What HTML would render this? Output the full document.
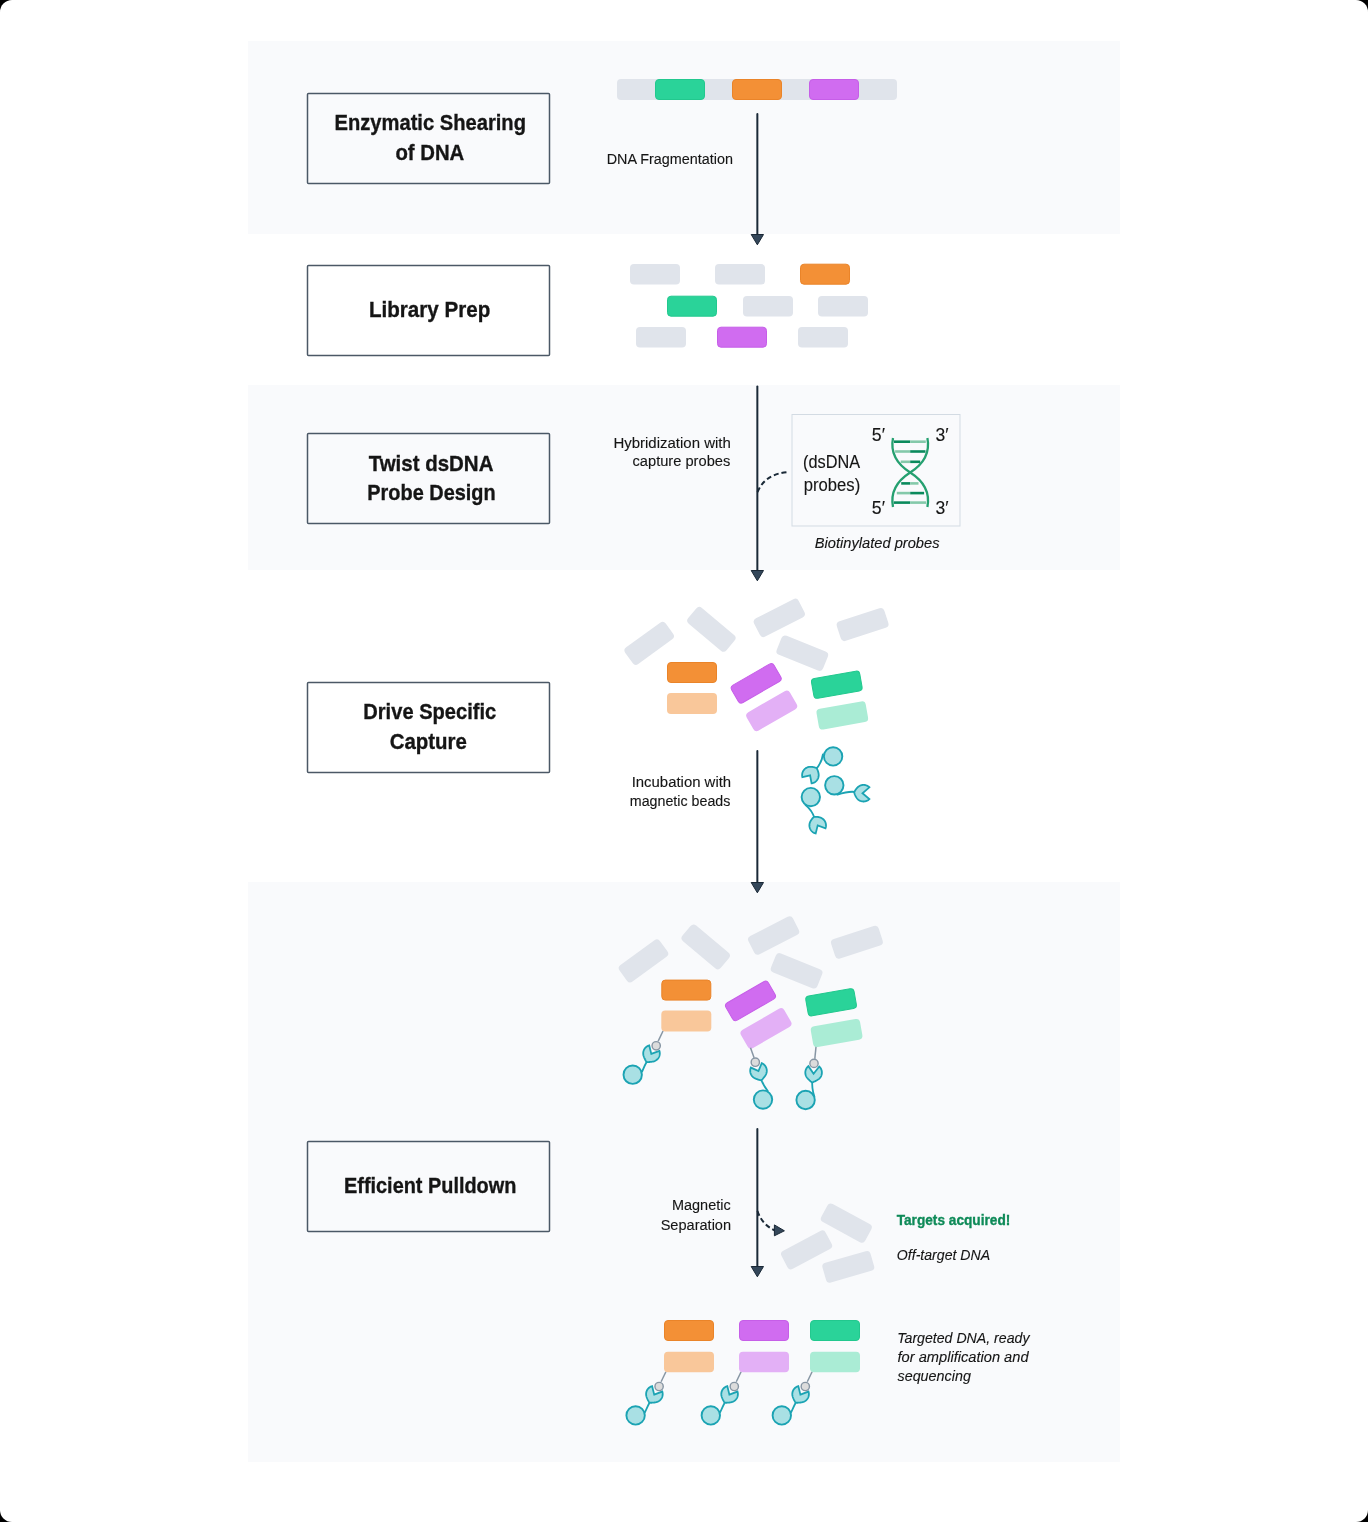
<!DOCTYPE html><html><head><meta charset="utf-8"><style>html,body{margin:0;padding:0;background:#000;width:1368px;height:1522px;overflow:hidden}svg{display:block;will-change:transform}text{font-family:"Liberation Sans", sans-serif}</style></head><body>
<svg width="1368" height="1522" viewBox="0 0 1368 1522">
<rect x="0" y="0" width="1368" height="1522" rx="12" fill="#ffffff"/>
<rect x="248" y="41" width="872" height="193" fill="#f9fafc"/>
<rect x="248" y="385" width="872" height="185" fill="#f9fafc"/>
<rect x="248" y="882" width="872" height="580" fill="#f9fafc"/>
<rect x="307.5" y="93.5" width="242" height="90" rx="1" fill="none" stroke="#4b5866" stroke-width="1.5"/>
<rect x="307.5" y="265.5" width="242" height="90" rx="1" fill="none" stroke="#4b5866" stroke-width="1.5"/>
<rect x="307.5" y="433.5" width="242" height="90" rx="1" fill="none" stroke="#4b5866" stroke-width="1.5"/>
<rect x="307.5" y="682.5" width="242" height="90" rx="1" fill="none" stroke="#4b5866" stroke-width="1.5"/>
<rect x="307.5" y="1141.5" width="242" height="90" rx="1" fill="none" stroke="#4b5866" stroke-width="1.5"/>
<rect x="792" y="414.5" width="168" height="111.5" fill="#f9fafc" stroke="#d3dbe3" stroke-width="1"/>
<line x1="894" y1="441.7" x2="910.2" y2="441.7" stroke="#0a8a5c" stroke-width="2.6"/>
<line x1="910.2" y1="441.7" x2="925.8" y2="441.7" stroke="#84c9aa" stroke-width="2.6"/>
<line x1="895.1" y1="451.5" x2="910.2" y2="451.5" stroke="#84c9aa" stroke-width="2.6"/>
<line x1="910.2" y1="451.5" x2="925.5" y2="451.5" stroke="#0a8a5c" stroke-width="2.6"/>
<line x1="900.7" y1="461.8" x2="910.2" y2="461.8" stroke="#84c9aa" stroke-width="2.6"/>
<line x1="910.2" y1="461.8" x2="920.2" y2="461.8" stroke="#0a8a5c" stroke-width="2.6"/>
<line x1="901.2" y1="483.4" x2="910.2" y2="483.4" stroke="#0a8a5c" stroke-width="2.6"/>
<line x1="910.2" y1="483.4" x2="918.5" y2="483.4" stroke="#84c9aa" stroke-width="2.6"/>
<line x1="896.8" y1="493.1" x2="910.2" y2="493.1" stroke="#84c9aa" stroke-width="2.6"/>
<line x1="910.2" y1="493.1" x2="924.1" y2="493.1" stroke="#0a8a5c" stroke-width="2.6"/>
<line x1="893.7" y1="502.6" x2="910.2" y2="502.6" stroke="#0a8a5c" stroke-width="2.6"/>
<line x1="910.2" y1="502.6" x2="926.1" y2="502.6" stroke="#84c9aa" stroke-width="2.6"/>
<path d="M893.00,438.00 C889.50,456.00 900.00,466.00 910.20,472.50 C920.40,479.00 930.90,489.00 927.40,507.00" fill="none" stroke="#25a070" stroke-width="2.3"/>
<path d="M927.40,438.00 C930.90,456.00 920.40,466.00 910.20,472.50 C900.00,479.00 889.50,489.00 893.00,507.00" fill="none" stroke="#25a070" stroke-width="2.3"/>
<line x1="757.35" y1="114" x2="757.35" y2="235" stroke="#1a2937" stroke-width="2" stroke-linecap="round"/>
<path d="M751.2,234.5 L763.5,234.5 L757.35,244.8 Z" fill="#34475a" stroke="#1a2836" stroke-width="1" stroke-linejoin="miter"/>
<line x1="757.35" y1="386.5" x2="757.35" y2="571" stroke="#1a2937" stroke-width="2" stroke-linecap="round"/>
<path d="M751.2,570.5 L763.5,570.5 L757.35,580.8 Z" fill="#34475a" stroke="#1a2836" stroke-width="1" stroke-linejoin="miter"/>
<line x1="757.35" y1="751" x2="757.35" y2="883" stroke="#1a2937" stroke-width="2" stroke-linecap="round"/>
<path d="M751.2,882.5 L763.5,882.5 L757.35,892.8 Z" fill="#34475a" stroke="#1a2836" stroke-width="1" stroke-linejoin="miter"/>
<line x1="757.35" y1="1129" x2="757.35" y2="1267" stroke="#1a2937" stroke-width="2" stroke-linecap="round"/>
<path d="M751.2,1266.5 L763.5,1266.5 L757.35,1276.8 Z" fill="#34475a" stroke="#1a2836" stroke-width="1" stroke-linejoin="miter"/>
<path d="M757.5,492 Q765,474 788,472" fill="none" stroke="#1a2937" stroke-width="2" stroke-dasharray="5,3"/>
<path d="M757.5,1211 Q762,1225 776,1231" fill="none" stroke="#1a2937" stroke-width="2" stroke-dasharray="5,3"/>
<path d="M774.4,1224.9 L784.4,1230.8 L774.4,1235.8 Z" fill="#34475a" stroke="#1a2836" stroke-width="1"/>
<rect x="-140.0" y="-10.5" width="280" height="21" rx="4" fill="#e0e4eb" transform="translate(757.00,89.50) rotate(0)"/>
<rect x="-24.5" y="-10.0" width="49" height="20" rx="3.5" fill="#2ad399" stroke="#22c88e" stroke-width="1" transform="translate(680.00,89.50) rotate(0)"/>
<rect x="-24.5" y="-10.0" width="49" height="20" rx="3.5" fill="#f39036" stroke="#ea8429" stroke-width="1" transform="translate(757.00,89.50) rotate(0)"/>
<rect x="-24.5" y="-10.0" width="49" height="20" rx="3.5" fill="#d06cf0" stroke="#c65ee8" stroke-width="1" transform="translate(834.00,89.50) rotate(0)"/>
<rect x="-25.0" y="-10.149999999999977" width="50" height="20.299999999999955" rx="4" fill="#e0e4eb" transform="translate(655.00,274.25) rotate(0)"/>
<rect x="-25.0" y="-10.149999999999977" width="50" height="20.299999999999955" rx="4" fill="#e0e4eb" transform="translate(740.00,274.25) rotate(0)"/>
<rect x="-24.5" y="-10.0" width="49" height="20.0" rx="3.5" fill="#f39036" stroke="#ea8429" stroke-width="1" transform="translate(825.00,274.20) rotate(0)"/>
<rect x="-24.5" y="-10.0" width="49" height="20.0" rx="3.5" fill="#2ad399" stroke="#22c88e" stroke-width="1" transform="translate(692.00,306.20) rotate(0)"/>
<rect x="-25.0" y="-10.149999999999977" width="50" height="20.299999999999955" rx="4" fill="#e0e4eb" transform="translate(768.00,306.25) rotate(0)"/>
<rect x="-25.0" y="-10.149999999999977" width="50" height="20.299999999999955" rx="4" fill="#e0e4eb" transform="translate(843.00,306.25) rotate(0)"/>
<rect x="-25.0" y="-10.149999999999977" width="50" height="20.299999999999955" rx="4" fill="#e0e4eb" transform="translate(661.00,337.25) rotate(0)"/>
<rect x="-24.5" y="-10.0" width="49" height="20.0" rx="3.5" fill="#d06cf0" stroke="#c65ee8" stroke-width="1" transform="translate(742.00,337.20) rotate(0)"/>
<rect x="-25.0" y="-10.149999999999977" width="50" height="20.299999999999955" rx="4" fill="#e0e4eb" transform="translate(823.00,337.25) rotate(0)"/>
<g><rect x="-25.0" y="-10.25" width="50" height="20.5" rx="4" fill="#e0e4eb" transform="translate(649.20,643.30) rotate(-36)"/><rect x="-25.0" y="-10.25" width="50" height="20.5" rx="4" fill="#e0e4eb" transform="translate(711.40,629.30) rotate(40)"/><rect x="-25.0" y="-10.25" width="50" height="20.5" rx="4" fill="#e0e4eb" transform="translate(779.30,617.90) rotate(-27)"/><rect x="-25.0" y="-10.25" width="50" height="20.5" rx="4" fill="#e0e4eb" transform="translate(862.60,624.60) rotate(-18)"/><rect x="-25.0" y="-10.25" width="50" height="20.5" rx="4" fill="#e0e4eb" transform="translate(802.30,653.20) rotate(22)"/><rect x="-24.5" y="-10.0" width="49" height="20" rx="3.5" fill="#f39036" stroke="#ea8429" stroke-width="1" transform="translate(692.00,672.50) rotate(0)"/><rect x="-25.0" y="-10.5" width="50" height="21" rx="4" fill="#f9c79a" transform="translate(692.00,703.50) rotate(0)"/><rect x="-24.5" y="-10.0" width="49" height="20" rx="3.5" fill="#d06cf0" stroke="#c65ee8" stroke-width="1" transform="translate(756.20,683.30) rotate(-30)"/><rect x="-25.0" y="-10.5" width="50" height="21" rx="4" fill="#e3b0f6" transform="translate(771.70,710.80) rotate(-30)"/><rect x="-24.5" y="-10.0" width="49" height="20" rx="3.5" fill="#2ad399" stroke="#22c88e" stroke-width="1" transform="translate(836.80,684.70) rotate(-10)"/><rect x="-25.0" y="-10.5" width="50" height="21" rx="4" fill="#aaecd5" transform="translate(842.30,715.40) rotate(-10)"/></g>
<g transform="translate(-5.7,317.6)"><rect x="-25.0" y="-10.25" width="50" height="20.5" rx="4" fill="#e0e4eb" transform="translate(649.20,643.30) rotate(-36)"/><rect x="-25.0" y="-10.25" width="50" height="20.5" rx="4" fill="#e0e4eb" transform="translate(711.40,629.30) rotate(40)"/><rect x="-25.0" y="-10.25" width="50" height="20.5" rx="4" fill="#e0e4eb" transform="translate(779.30,617.90) rotate(-27)"/><rect x="-25.0" y="-10.25" width="50" height="20.5" rx="4" fill="#e0e4eb" transform="translate(862.60,624.60) rotate(-18)"/><rect x="-25.0" y="-10.25" width="50" height="20.5" rx="4" fill="#e0e4eb" transform="translate(802.30,653.20) rotate(22)"/><rect x="-24.5" y="-10.0" width="49" height="20" rx="3.5" fill="#f39036" stroke="#ea8429" stroke-width="1" transform="translate(692.00,672.50) rotate(0)"/><rect x="-25.0" y="-10.5" width="50" height="21" rx="4" fill="#f9c79a" transform="translate(692.00,703.50) rotate(0)"/><rect x="-24.5" y="-10.0" width="49" height="20" rx="3.5" fill="#d06cf0" stroke="#c65ee8" stroke-width="1" transform="translate(756.20,683.30) rotate(-30)"/><rect x="-25.0" y="-10.5" width="50" height="21" rx="4" fill="#e3b0f6" transform="translate(771.70,710.80) rotate(-30)"/><rect x="-24.5" y="-10.0" width="49" height="20" rx="3.5" fill="#2ad399" stroke="#22c88e" stroke-width="1" transform="translate(836.80,684.70) rotate(-10)"/><rect x="-25.0" y="-10.5" width="50" height="21" rx="4" fill="#aaecd5" transform="translate(842.30,715.40) rotate(-10)"/></g>
<path d="M822.9,754.5 Q821.5,764 815,770" fill="none" stroke="#1ba3b3" stroke-width="1.8" stroke-linecap="round"/>
<circle cx="833.1" cy="756.4" r="9.2" fill="#a9e0e4" stroke="#1ba3b3" stroke-width="1.9"/>
<path d="M810.10,775.40 L802.35,777.11 L802.25,776.69 L802.18,776.26 L802.13,775.84 L802.11,775.41 L802.10,774.98 L802.12,774.55 L802.16,774.12 L802.22,773.70 L802.30,773.27 L802.41,772.86 L802.54,772.45 L802.68,772.04 L802.85,771.65 L803.04,771.26 L803.25,770.89 L803.48,770.52 L803.72,770.17 L803.99,769.83 L804.27,769.50 L804.57,769.19 L804.88,768.90 L805.21,768.62 L805.55,768.36 L805.91,768.12 L806.27,767.90 L806.65,767.69 L807.04,767.51 L807.44,767.35 L807.84,767.20 L808.26,767.08 L808.67,766.98 L809.10,766.90 L809.52,766.85 L809.95,766.81 L810.38,766.80 L810.81,766.81 L811.24,766.83 L811.67,766.87 L812.10,766.92 L812.53,766.97 L812.97,767.05 L813.40,767.13 L813.84,767.23 L814.28,767.34 L814.73,767.47 L815.17,767.61 L815.62,767.77 L816.08,767.95 L816.53,768.15 L816.82,768.54 L817.06,768.97 L817.27,769.40 L817.47,769.83 L817.65,770.26 L817.81,770.69 L817.96,771.11 L818.09,771.54 L818.21,771.96 L818.32,772.39 L818.42,772.81 L818.50,773.23 L818.58,773.66 L818.64,774.08 L818.68,774.51 L818.70,774.94 L818.70,775.37 L818.67,775.80 L818.62,776.23 L818.55,776.65 L818.46,777.07 L818.35,777.49 L818.22,777.89 L818.06,778.30 L817.88,778.69 L817.69,779.07 L817.47,779.44 L817.24,779.80 L816.99,780.15 L816.72,780.49 L816.43,780.80 L816.13,781.11 L815.81,781.40 L815.47,781.67 L815.13,781.92 L814.77,782.16 L814.40,782.38 L814.01,782.57 L813.62,782.75 L813.22,782.91 L812.81,783.04 L812.40,783.16 L811.98,783.25 L811.56,783.32 Z" fill="#a9e0e4" stroke="#1ba3b3" stroke-width="1.8" stroke-linejoin="miter"/>
<path d="M837.5,794.6 Q850,790.5 857,792.3" fill="none" stroke="#1ba3b3" stroke-width="1.8" stroke-linecap="round"/>
<circle cx="834.3" cy="785.3" r="9.2" fill="#a9e0e4" stroke="#1ba3b3" stroke-width="1.9"/>
<path d="M862.50,793.20 L869.37,799.07 L869.06,799.36 L868.73,799.64 L868.39,799.91 L868.04,800.15 L867.67,800.38 L867.29,800.58 L866.91,800.77 L866.51,800.93 L866.11,801.08 L865.69,801.20 L865.28,801.31 L864.85,801.39 L864.43,801.45 L864.00,801.48 L863.57,801.50 L863.14,801.49 L862.71,801.46 L862.29,801.41 L861.86,801.34 L861.44,801.24 L861.03,801.12 L860.62,800.99 L860.22,800.83 L859.83,800.65 L859.45,800.45 L859.08,800.23 L858.73,799.99 L858.38,799.73 L858.05,799.46 L857.73,799.17 L857.43,798.86 L857.15,798.54 L856.88,798.21 L856.63,797.86 L856.39,797.50 L856.16,797.13 L855.94,796.76 L855.72,796.38 L855.52,795.99 L855.33,795.59 L855.14,795.18 L854.96,794.76 L854.80,794.33 L854.64,793.89 L854.50,793.43 L854.37,792.96 L854.26,792.48 L854.39,792.01 L854.60,791.57 L854.82,791.14 L855.04,790.72 L855.28,790.32 L855.52,789.93 L855.77,789.56 L856.03,789.20 L856.29,788.84 L856.57,788.50 L856.85,788.17 L857.14,787.85 L857.43,787.54 L857.73,787.23 L858.05,786.94 L858.38,786.67 L858.73,786.41 L859.08,786.17 L859.45,785.95 L859.83,785.75 L860.22,785.57 L860.62,785.41 L861.03,785.28 L861.44,785.16 L861.86,785.06 L862.29,784.99 L862.71,784.94 L863.14,784.91 L863.57,784.90 L864.00,784.92 L864.43,784.95 L864.85,785.01 L865.28,785.09 L865.69,785.20 L866.11,785.32 L866.51,785.47 L866.91,785.63 L867.29,785.82 L867.67,786.02 L868.04,786.25 L868.39,786.49 L868.73,786.76 L869.06,787.04 L869.37,787.33 Z" fill="#a9e0e4" stroke="#1ba3b3" stroke-width="1.8" stroke-linejoin="miter"/>
<path d="M805.5,805 Q812,810 814.8,818.8" fill="none" stroke="#1ba3b3" stroke-width="1.8" stroke-linecap="round"/>
<circle cx="810.8" cy="797.1" r="9.2" fill="#a9e0e4" stroke="#1ba3b3" stroke-width="1.9"/>
<path d="M817.70,825.40 L815.69,833.45 L815.28,833.34 L814.87,833.20 L814.47,833.05 L814.08,832.87 L813.70,832.67 L813.33,832.45 L812.97,832.22 L812.62,831.96 L812.29,831.69 L811.97,831.40 L811.66,831.10 L811.38,830.78 L811.11,830.44 L810.86,830.10 L810.62,829.73 L810.41,829.36 L810.21,828.98 L810.04,828.59 L809.88,828.19 L809.75,827.78 L809.64,827.36 L809.54,826.94 L809.48,826.52 L809.43,826.09 L809.40,825.66 L809.40,825.23 L809.42,824.80 L809.46,824.37 L809.53,823.95 L809.61,823.53 L809.72,823.11 L809.85,822.70 L810.00,822.30 L810.17,821.90 L810.36,821.52 L810.56,821.14 L810.77,820.76 L810.99,820.39 L811.23,820.02 L811.47,819.65 L811.73,819.29 L812.00,818.93 L812.29,818.57 L812.59,818.22 L812.91,817.87 L813.25,817.53 L813.60,817.19 L813.99,816.90 L814.49,816.85 L814.97,816.82 L815.45,816.80 L815.92,816.80 L816.39,816.82 L816.84,816.85 L817.29,816.89 L817.73,816.94 L818.16,817.01 L818.59,817.09 L819.02,817.17 L819.44,817.27 L819.85,817.38 L820.26,817.51 L820.67,817.65 L821.07,817.81 L821.46,818.00 L821.83,818.20 L822.20,818.43 L822.56,818.67 L822.90,818.93 L823.23,819.21 L823.54,819.50 L823.84,819.81 L824.12,820.14 L824.38,820.48 L824.63,820.83 L824.86,821.19 L825.06,821.57 L825.25,821.96 L825.42,822.35 L825.57,822.76 L825.69,823.17 L825.80,823.58 L825.88,824.00 L825.94,824.43 L825.98,824.86 L826.00,825.29 L825.99,825.72 L825.97,826.15 L825.92,826.57 L825.84,827.00 L825.75,827.42 L825.64,827.83 L825.50,828.24 Z" fill="#a9e0e4" stroke="#1ba3b3" stroke-width="1.8" stroke-linejoin="miter"/>
<line x1="663" y1="1031.0" x2="658.2" y2="1041.1" stroke="#8796a4" stroke-width="1.5"/><path d="M647.9,1059.5 Q645,1064.7 642.2,1071.3" fill="none" stroke="#1ba3b3" stroke-width="1.8" stroke-linecap="round"/><path d="M651.30,1053.90 L659.39,1050.84 L659.52,1051.25 L659.62,1051.67 L659.70,1052.10 L659.75,1052.53 L659.79,1052.96 L659.80,1053.39 L659.79,1053.82 L659.76,1054.25 L659.70,1054.68 L659.62,1055.11 L659.52,1055.53 L659.40,1055.95 L659.26,1056.36 L659.09,1056.76 L658.91,1057.15 L658.70,1057.53 L658.48,1057.90 L658.23,1058.26 L657.97,1058.60 L657.69,1058.93 L657.39,1059.25 L657.08,1059.54 L656.75,1059.83 L656.41,1060.09 L656.05,1060.34 L655.69,1060.57 L655.31,1060.78 L654.92,1060.96 L654.52,1061.13 L654.11,1061.28 L653.70,1061.40 L653.28,1061.51 L652.85,1061.59 L652.42,1061.66 L651.99,1061.73 L651.56,1061.79 L651.12,1061.85 L650.67,1061.90 L650.21,1061.95 L649.74,1061.99 L649.26,1062.02 L648.77,1062.04 L648.26,1062.05 L647.74,1062.04 L647.20,1062.02 L646.65,1061.98 L646.29,1061.59 L645.99,1061.13 L645.72,1060.68 L645.47,1060.23 L645.23,1059.79 L645.01,1059.36 L644.81,1058.93 L644.61,1058.51 L644.43,1058.10 L644.26,1057.68 L644.09,1057.28 L643.94,1056.87 L643.78,1056.46 L643.64,1056.06 L643.51,1055.64 L643.40,1055.22 L643.32,1054.80 L643.26,1054.37 L643.22,1053.94 L643.20,1053.51 L643.21,1053.07 L643.23,1052.64 L643.29,1052.21 L643.36,1051.78 L643.45,1051.36 L643.57,1050.94 L643.71,1050.53 L643.87,1050.13 L644.05,1049.74 L644.25,1049.36 L644.47,1048.98 L644.71,1048.62 L644.97,1048.27 L645.25,1047.94 L645.54,1047.62 L645.85,1047.32 L646.17,1047.03 L646.51,1046.76 L646.87,1046.51 L647.23,1046.28 L647.61,1046.07 L648.00,1045.88 L648.39,1045.70 L648.80,1045.55 L649.21,1045.42 Z" fill="#a9e0e4" stroke="#1ba3b3" stroke-width="1.8" stroke-linejoin="miter"/><circle cx="656.2" cy="1045.8" r="4.15" fill="#dcdcdc" stroke="#8796a4" stroke-width="1.4"/><circle cx="632.7" cy="1074.7" r="9.2" fill="#a9e0e4" stroke="#1ba3b3" stroke-width="1.9"/>
<line x1="665.9" y1="1371.7" x2="661.1" y2="1381.8" stroke="#8796a4" stroke-width="1.5"/><path d="M650.8,1400.2 Q647.9,1405.4 645.1,1412.0" fill="none" stroke="#1ba3b3" stroke-width="1.8" stroke-linecap="round"/><path d="M654.20,1394.60 L662.29,1391.54 L662.42,1391.95 L662.52,1392.37 L662.60,1392.80 L662.65,1393.23 L662.69,1393.66 L662.70,1394.09 L662.69,1394.52 L662.66,1394.95 L662.60,1395.38 L662.52,1395.81 L662.42,1396.23 L662.30,1396.65 L662.16,1397.06 L661.99,1397.46 L661.81,1397.85 L661.60,1398.23 L661.38,1398.60 L661.13,1398.96 L660.87,1399.30 L660.59,1399.63 L660.29,1399.95 L659.98,1400.24 L659.65,1400.53 L659.31,1400.79 L658.95,1401.04 L658.59,1401.27 L658.21,1401.48 L657.82,1401.66 L657.42,1401.83 L657.01,1401.98 L656.60,1402.10 L656.18,1402.21 L655.75,1402.29 L655.32,1402.36 L654.89,1402.43 L654.46,1402.49 L654.02,1402.55 L653.57,1402.60 L653.11,1402.65 L652.64,1402.69 L652.16,1402.72 L651.67,1402.74 L651.16,1402.75 L650.64,1402.74 L650.10,1402.72 L649.55,1402.68 L649.19,1402.29 L648.89,1401.83 L648.62,1401.38 L648.37,1400.93 L648.13,1400.49 L647.91,1400.06 L647.71,1399.63 L647.51,1399.21 L647.33,1398.80 L647.16,1398.38 L646.99,1397.98 L646.84,1397.57 L646.68,1397.16 L646.54,1396.76 L646.41,1396.34 L646.30,1395.92 L646.22,1395.50 L646.16,1395.07 L646.12,1394.64 L646.10,1394.21 L646.11,1393.77 L646.13,1393.34 L646.19,1392.91 L646.26,1392.48 L646.35,1392.06 L646.47,1391.64 L646.61,1391.23 L646.77,1390.83 L646.95,1390.44 L647.15,1390.06 L647.37,1389.68 L647.61,1389.32 L647.87,1388.97 L648.15,1388.64 L648.44,1388.32 L648.75,1388.02 L649.07,1387.73 L649.41,1387.46 L649.77,1387.21 L650.13,1386.98 L650.51,1386.77 L650.90,1386.58 L651.29,1386.40 L651.70,1386.25 L652.11,1386.12 Z" fill="#a9e0e4" stroke="#1ba3b3" stroke-width="1.8" stroke-linejoin="miter"/><circle cx="659.1" cy="1386.5" r="4.15" fill="#dcdcdc" stroke="#8796a4" stroke-width="1.4"/><circle cx="635.6" cy="1415.4" r="9.2" fill="#a9e0e4" stroke="#1ba3b3" stroke-width="1.9"/>
<line x1="741.1" y1="1371.7" x2="736.3000000000001" y2="1381.8" stroke="#8796a4" stroke-width="1.5"/><path d="M726.0,1400.2 Q723.1,1405.4 720.3000000000001,1412.0" fill="none" stroke="#1ba3b3" stroke-width="1.8" stroke-linecap="round"/><path d="M729.40,1394.60 L737.49,1391.54 L737.62,1391.95 L737.72,1392.37 L737.80,1392.80 L737.85,1393.23 L737.89,1393.66 L737.90,1394.09 L737.89,1394.52 L737.86,1394.95 L737.80,1395.38 L737.72,1395.81 L737.62,1396.23 L737.50,1396.65 L737.36,1397.06 L737.19,1397.46 L737.01,1397.85 L736.80,1398.23 L736.58,1398.60 L736.33,1398.96 L736.07,1399.30 L735.79,1399.63 L735.49,1399.95 L735.18,1400.24 L734.85,1400.53 L734.51,1400.79 L734.15,1401.04 L733.79,1401.27 L733.41,1401.48 L733.02,1401.66 L732.62,1401.83 L732.21,1401.98 L731.80,1402.10 L731.38,1402.21 L730.95,1402.29 L730.52,1402.36 L730.09,1402.43 L729.66,1402.49 L729.22,1402.55 L728.77,1402.60 L728.31,1402.65 L727.84,1402.69 L727.36,1402.72 L726.87,1402.74 L726.36,1402.75 L725.84,1402.74 L725.30,1402.72 L724.75,1402.68 L724.39,1402.29 L724.09,1401.83 L723.82,1401.38 L723.57,1400.93 L723.33,1400.49 L723.11,1400.06 L722.91,1399.63 L722.71,1399.21 L722.53,1398.80 L722.36,1398.38 L722.19,1397.98 L722.04,1397.57 L721.88,1397.16 L721.74,1396.76 L721.61,1396.34 L721.50,1395.92 L721.42,1395.50 L721.36,1395.07 L721.32,1394.64 L721.30,1394.21 L721.31,1393.77 L721.33,1393.34 L721.39,1392.91 L721.46,1392.48 L721.55,1392.06 L721.67,1391.64 L721.81,1391.23 L721.97,1390.83 L722.15,1390.44 L722.35,1390.06 L722.57,1389.68 L722.81,1389.32 L723.07,1388.97 L723.35,1388.64 L723.64,1388.32 L723.95,1388.02 L724.27,1387.73 L724.61,1387.46 L724.97,1387.21 L725.33,1386.98 L725.71,1386.77 L726.10,1386.58 L726.49,1386.40 L726.90,1386.25 L727.31,1386.12 Z" fill="#a9e0e4" stroke="#1ba3b3" stroke-width="1.8" stroke-linejoin="miter"/><circle cx="734.3000000000001" cy="1386.5" r="4.15" fill="#dcdcdc" stroke="#8796a4" stroke-width="1.4"/><circle cx="710.8000000000001" cy="1415.4" r="9.2" fill="#a9e0e4" stroke="#1ba3b3" stroke-width="1.9"/>
<line x1="812.1" y1="1371.7" x2="807.3000000000001" y2="1381.8" stroke="#8796a4" stroke-width="1.5"/><path d="M797.0,1400.2 Q794.1,1405.4 791.3000000000001,1412.0" fill="none" stroke="#1ba3b3" stroke-width="1.8" stroke-linecap="round"/><path d="M800.40,1394.60 L808.49,1391.54 L808.62,1391.95 L808.72,1392.37 L808.80,1392.80 L808.85,1393.23 L808.89,1393.66 L808.90,1394.09 L808.89,1394.52 L808.86,1394.95 L808.80,1395.38 L808.72,1395.81 L808.62,1396.23 L808.50,1396.65 L808.36,1397.06 L808.19,1397.46 L808.01,1397.85 L807.80,1398.23 L807.58,1398.60 L807.33,1398.96 L807.07,1399.30 L806.79,1399.63 L806.49,1399.95 L806.18,1400.24 L805.85,1400.53 L805.51,1400.79 L805.15,1401.04 L804.79,1401.27 L804.41,1401.48 L804.02,1401.66 L803.62,1401.83 L803.21,1401.98 L802.80,1402.10 L802.38,1402.21 L801.95,1402.29 L801.52,1402.36 L801.09,1402.43 L800.66,1402.49 L800.22,1402.55 L799.77,1402.60 L799.31,1402.65 L798.84,1402.69 L798.36,1402.72 L797.87,1402.74 L797.36,1402.75 L796.84,1402.74 L796.30,1402.72 L795.75,1402.68 L795.39,1402.29 L795.09,1401.83 L794.82,1401.38 L794.57,1400.93 L794.33,1400.49 L794.11,1400.06 L793.91,1399.63 L793.71,1399.21 L793.53,1398.80 L793.36,1398.38 L793.19,1397.98 L793.04,1397.57 L792.88,1397.16 L792.74,1396.76 L792.61,1396.34 L792.50,1395.92 L792.42,1395.50 L792.36,1395.07 L792.32,1394.64 L792.30,1394.21 L792.31,1393.77 L792.33,1393.34 L792.39,1392.91 L792.46,1392.48 L792.55,1392.06 L792.67,1391.64 L792.81,1391.23 L792.97,1390.83 L793.15,1390.44 L793.35,1390.06 L793.57,1389.68 L793.81,1389.32 L794.07,1388.97 L794.35,1388.64 L794.64,1388.32 L794.95,1388.02 L795.27,1387.73 L795.61,1387.46 L795.97,1387.21 L796.33,1386.98 L796.71,1386.77 L797.10,1386.58 L797.49,1386.40 L797.90,1386.25 L798.31,1386.12 Z" fill="#a9e0e4" stroke="#1ba3b3" stroke-width="1.8" stroke-linejoin="miter"/><circle cx="805.3000000000001" cy="1386.5" r="4.15" fill="#dcdcdc" stroke="#8796a4" stroke-width="1.4"/><circle cx="781.8000000000001" cy="1415.4" r="9.2" fill="#a9e0e4" stroke="#1ba3b3" stroke-width="1.9"/>
<line x1="750.5" y1="1047.7" x2="754.1" y2="1057.7" stroke="#8796a4" stroke-width="1.5"/>
<path d="M760.6,1078.2 Q763,1085 767.8,1091.1" fill="none" stroke="#1ba3b3" stroke-width="1.8" stroke-linecap="round"/>
<path d="M758.50,1071.00 L761.74,1063.16 L762.13,1063.34 L762.52,1063.54 L762.89,1063.75 L763.25,1063.99 L763.59,1064.24 L763.92,1064.52 L764.24,1064.81 L764.54,1065.11 L764.83,1065.43 L765.10,1065.77 L765.35,1066.12 L765.58,1066.48 L765.80,1066.85 L765.99,1067.23 L766.17,1067.62 L766.32,1068.03 L766.46,1068.43 L766.57,1068.85 L766.66,1069.27 L766.73,1069.69 L766.77,1070.12 L766.80,1070.55 L766.80,1070.98 L766.78,1071.41 L766.73,1071.84 L766.67,1072.26 L766.58,1072.68 L766.48,1073.10 L766.35,1073.51 L766.20,1073.91 L766.02,1074.30 L765.83,1074.69 L765.62,1075.06 L765.39,1075.43 L765.15,1075.78 L764.90,1076.14 L764.65,1076.49 L764.39,1076.84 L764.12,1077.20 L763.84,1077.56 L763.55,1077.92 L763.24,1078.28 L762.92,1078.65 L762.59,1079.01 L762.23,1079.38 L761.85,1079.75 L761.45,1080.12 L760.96,1080.27 L760.43,1080.17 L759.91,1080.06 L759.41,1079.94 L758.93,1079.80 L758.46,1079.66 L758.01,1079.52 L757.57,1079.37 L757.14,1079.21 L756.73,1079.05 L756.32,1078.89 L755.92,1078.72 L755.52,1078.56 L755.13,1078.38 L754.74,1078.20 L754.36,1077.99 L753.99,1077.77 L753.64,1077.53 L753.30,1077.27 L752.97,1076.99 L752.66,1076.69 L752.36,1076.38 L752.08,1076.06 L751.81,1075.72 L751.57,1075.37 L751.34,1075.00 L751.13,1074.62 L750.95,1074.24 L750.78,1073.84 L750.63,1073.44 L750.50,1073.03 L750.40,1072.61 L750.32,1072.19 L750.26,1071.76 L750.22,1071.34 L750.20,1070.91 L750.21,1070.48 L750.23,1070.05 L750.28,1069.62 L750.36,1069.20 L750.45,1068.78 L750.57,1068.36 L750.70,1067.96 L750.86,1067.56 Z" fill="#a9e0e4" stroke="#1ba3b3" stroke-width="1.8" stroke-linejoin="miter"/>
<circle cx="755.3" cy="1062.2" r="4.15" fill="#dcdcdc" stroke="#8796a4" stroke-width="1.4"/>
<circle cx="763" cy="1099.6" r="9.2" fill="#a9e0e4" stroke="#1ba3b3" stroke-width="1.9"/>
<line x1="816" y1="1046.9" x2="814.8" y2="1058.9" stroke="#8796a4" stroke-width="1.5"/>
<path d="M812.4,1079.9 Q811.5,1088 814.4,1096.7" fill="none" stroke="#1ba3b3" stroke-width="1.8" stroke-linecap="round"/>
<path d="M813.60,1073.80 L819.26,1066.53 L819.57,1066.83 L819.86,1067.15 L820.14,1067.49 L820.40,1067.83 L820.63,1068.20 L820.85,1068.57 L821.06,1068.95 L821.24,1069.35 L821.39,1069.75 L821.53,1070.16 L821.65,1070.58 L821.74,1071.00 L821.82,1071.42 L821.87,1071.85 L821.89,1072.29 L821.90,1072.72 L821.88,1073.15 L821.84,1073.58 L821.78,1074.01 L821.69,1074.44 L821.59,1074.86 L821.46,1075.27 L821.31,1075.68 L821.14,1076.07 L820.95,1076.46 L820.74,1076.84 L820.50,1077.21 L820.25,1077.56 L819.99,1077.90 L819.70,1078.23 L819.40,1078.54 L819.08,1078.83 L818.75,1079.11 L818.40,1079.37 L818.04,1079.61 L817.67,1079.83 L817.30,1080.05 L816.92,1080.27 L816.53,1080.48 L816.14,1080.69 L815.74,1080.90 L815.32,1081.11 L814.90,1081.31 L814.45,1081.51 L813.99,1081.70 L813.52,1081.89 L813.02,1082.07 L812.50,1082.24 L811.98,1082.33 L811.52,1082.01 L811.09,1081.68 L810.68,1081.36 L810.29,1081.03 L809.92,1080.71 L809.56,1080.38 L809.23,1080.06 L808.90,1079.73 L808.58,1079.41 L808.28,1079.09 L807.98,1078.77 L807.69,1078.44 L807.40,1078.12 L807.12,1077.79 L806.86,1077.44 L806.62,1077.08 L806.39,1076.71 L806.19,1076.33 L806.00,1075.94 L805.84,1075.54 L805.70,1075.13 L805.57,1074.72 L805.47,1074.29 L805.40,1073.87 L805.34,1073.44 L805.31,1073.01 L805.30,1072.57 L805.31,1072.14 L805.35,1071.71 L805.41,1071.28 L805.49,1070.85 L805.59,1070.43 L805.71,1070.02 L805.86,1069.61 L806.02,1069.21 L806.21,1068.82 L806.42,1068.44 L806.64,1068.07 L806.89,1067.72 L807.15,1067.37 L807.44,1067.04 L807.73,1066.73 L808.05,1066.43 L808.38,1066.15 Z" fill="#a9e0e4" stroke="#1ba3b3" stroke-width="1.8" stroke-linejoin="miter"/>
<circle cx="814" cy="1063.4" r="4.15" fill="#dcdcdc" stroke="#8796a4" stroke-width="1.4"/>
<circle cx="805.6" cy="1100" r="9.2" fill="#a9e0e4" stroke="#1ba3b3" stroke-width="1.9"/>
<rect x="-25.0" y="-10.25" width="50" height="20.5" rx="4" fill="#e0e4eb" transform="translate(846.30,1223.10) rotate(28.5)"/>
<rect x="-25.0" y="-10.25" width="50" height="20.5" rx="4" fill="#e0e4eb" transform="translate(806.60,1249.90) rotate(-28)"/>
<rect x="-25.0" y="-10.25" width="50" height="20.5" rx="4" fill="#e0e4eb" transform="translate(848.30,1266.80) rotate(-16)"/>
<rect x="-24.5" y="-10.0" width="49" height="20" rx="3.5" fill="#f39036" stroke="#ea8429" stroke-width="1" transform="translate(689.00,1330.50) rotate(0)"/>
<rect x="-25.0" y="-10.25" width="50" height="20.5" rx="4" fill="#f9c79a" transform="translate(689.00,1361.95) rotate(0)"/>
<rect x="-24.5" y="-10.0" width="49" height="20" rx="3.5" fill="#d06cf0" stroke="#c65ee8" stroke-width="1" transform="translate(764.00,1330.50) rotate(0)"/>
<rect x="-25.0" y="-10.25" width="50" height="20.5" rx="4" fill="#e3b0f6" transform="translate(764.00,1361.95) rotate(0)"/>
<rect x="-24.5" y="-10.0" width="49" height="20" rx="3.5" fill="#2ad399" stroke="#22c88e" stroke-width="1" transform="translate(835.00,1330.50) rotate(0)"/>
<rect x="-25.0" y="-10.25" width="50" height="20.5" rx="4" fill="#aaecd5" transform="translate(835.00,1361.95) rotate(0)"/>
<text x="334.50" y="130.3" font-size="22.6" font-weight="bold" font-style="normal" fill="#151515" stroke="#151515" stroke-width="0.35" textLength="191.48" lengthAdjust="spacingAndGlyphs">Enzymatic Shearing</text>
<text x="395.46" y="160.0" font-size="22.6" font-weight="bold" font-style="normal" fill="#151515" stroke="#151515" stroke-width="0.35" textLength="68.83" lengthAdjust="spacingAndGlyphs">of DNA</text>
<text x="369.00" y="317.1" font-size="22.6" font-weight="bold" font-style="normal" fill="#151515" stroke="#151515" stroke-width="0.35" textLength="121.22" lengthAdjust="spacingAndGlyphs">Library Prep</text>
<text x="368.70" y="470.8" font-size="22.6" font-weight="bold" font-style="normal" fill="#151515" stroke="#151515" stroke-width="0.35" textLength="124.76" lengthAdjust="spacingAndGlyphs">Twist dsDNA</text>
<text x="367.30" y="500.4" font-size="22.6" font-weight="bold" font-style="normal" fill="#151515" stroke="#151515" stroke-width="0.35" textLength="128.35" lengthAdjust="spacingAndGlyphs">Probe Design</text>
<text x="363.30" y="719.1" font-size="22.6" font-weight="bold" font-style="normal" fill="#151515" stroke="#151515" stroke-width="0.35" textLength="132.88" lengthAdjust="spacingAndGlyphs">Drive Specific</text>
<text x="389.73" y="748.8" font-size="22.6" font-weight="bold" font-style="normal" fill="#151515" stroke="#151515" stroke-width="0.35" textLength="77.19" lengthAdjust="spacingAndGlyphs">Capture</text>
<text x="344.00" y="1192.9" font-size="22.6" font-weight="bold" font-style="normal" fill="#151515" stroke="#151515" stroke-width="0.35" textLength="172.38" lengthAdjust="spacingAndGlyphs">Efficient Pulldown</text>
<text x="606.70" y="164.2" font-size="15.4" font-weight="normal" font-style="normal" fill="#151515" stroke="#151515" stroke-width="0.12" textLength="126.21" lengthAdjust="spacingAndGlyphs">DNA Fragmentation</text>
<text x="613.39" y="447.6" font-size="15.4" font-weight="normal" font-style="normal" fill="#151515" stroke="#151515" stroke-width="0.12" textLength="117.41" lengthAdjust="spacingAndGlyphs">Hybridization with</text>
<text x="632.52" y="466.0" font-size="15.4" font-weight="normal" font-style="normal" fill="#151515" stroke="#151515" stroke-width="0.12" textLength="97.77" lengthAdjust="spacingAndGlyphs">capture probes</text>
<text x="631.67" y="786.7" font-size="15.4" font-weight="normal" font-style="normal" fill="#151515" stroke="#151515" stroke-width="0.12" textLength="99.48" lengthAdjust="spacingAndGlyphs">Incubation with</text>
<text x="629.80" y="805.8" font-size="15.4" font-weight="normal" font-style="normal" fill="#151515" stroke="#151515" stroke-width="0.12" textLength="100.63" lengthAdjust="spacingAndGlyphs">magnetic beads</text>
<text x="671.99" y="1210.45" font-size="15.4" font-weight="normal" font-style="normal" fill="#151515" stroke="#151515" stroke-width="0.12" textLength="58.63" lengthAdjust="spacingAndGlyphs">Magnetic</text>
<text x="660.63" y="1229.7" font-size="15.4" font-weight="normal" font-style="normal" fill="#151515" stroke="#151515" stroke-width="0.12" textLength="70.46" lengthAdjust="spacingAndGlyphs">Separation</text>
<text x="896.65" y="1224.96" font-size="15.4" font-weight="bold" font-style="normal" fill="#0e8a58" stroke="#0e8a58" stroke-width="0.35" textLength="113.69" lengthAdjust="spacingAndGlyphs">Targets acquired!</text>
<text x="896.82" y="1260.3" font-size="15.4" font-weight="normal" font-style="italic" fill="#151515" stroke="#151515" stroke-width="0.12" textLength="93.31" lengthAdjust="spacingAndGlyphs">Off-target DNA</text>
<text x="897.19" y="1342.8" font-size="15.4" font-weight="normal" font-style="italic" fill="#151515" stroke="#151515" stroke-width="0.12" textLength="132.30" lengthAdjust="spacingAndGlyphs">Targeted DNA, ready</text>
<text x="897.50" y="1361.5" font-size="15.4" font-weight="normal" font-style="italic" fill="#151515" stroke="#151515" stroke-width="0.12" textLength="131.03" lengthAdjust="spacingAndGlyphs">for amplification and</text>
<text x="897.50" y="1381.1" font-size="15.4" font-weight="normal" font-style="italic" fill="#151515" stroke="#151515" stroke-width="0.12" textLength="73.36" lengthAdjust="spacingAndGlyphs">sequencing</text>
<text x="814.75" y="547.5" font-size="15.4" font-weight="normal" font-style="italic" fill="#151515" stroke="#151515" stroke-width="0.12" textLength="124.77" lengthAdjust="spacingAndGlyphs">Biotinylated probes</text>
<text x="803.04" y="467.75" font-size="17.5" font-weight="normal" font-style="normal" fill="#151515" stroke="#151515" stroke-width="0.12" textLength="56.96" lengthAdjust="spacingAndGlyphs">(dsDNA</text>
<text x="803.80" y="490.5" font-size="17.5" font-weight="normal" font-style="normal" fill="#151515" stroke="#151515" stroke-width="0.12" textLength="56.42" lengthAdjust="spacingAndGlyphs">probes)</text>
<text x="871.85" y="440.9" font-size="17.5" font-weight="normal" font-style="normal" fill="#151515" stroke="#151515" stroke-width="0.12" textLength="13.15" lengthAdjust="spacingAndGlyphs">5′</text>
<text x="935.56" y="440.9" font-size="17.5" font-weight="normal" font-style="normal" fill="#151515" stroke="#151515" stroke-width="0.12" textLength="13.04" lengthAdjust="spacingAndGlyphs">3′</text>
<text x="871.85" y="513.75" font-size="17.5" font-weight="normal" font-style="normal" fill="#151515" stroke="#151515" stroke-width="0.12" textLength="13.15" lengthAdjust="spacingAndGlyphs">5′</text>
<text x="935.56" y="513.75" font-size="17.5" font-weight="normal" font-style="normal" fill="#151515" stroke="#151515" stroke-width="0.12" textLength="13.04" lengthAdjust="spacingAndGlyphs">3′</text>
</svg></body></html>
